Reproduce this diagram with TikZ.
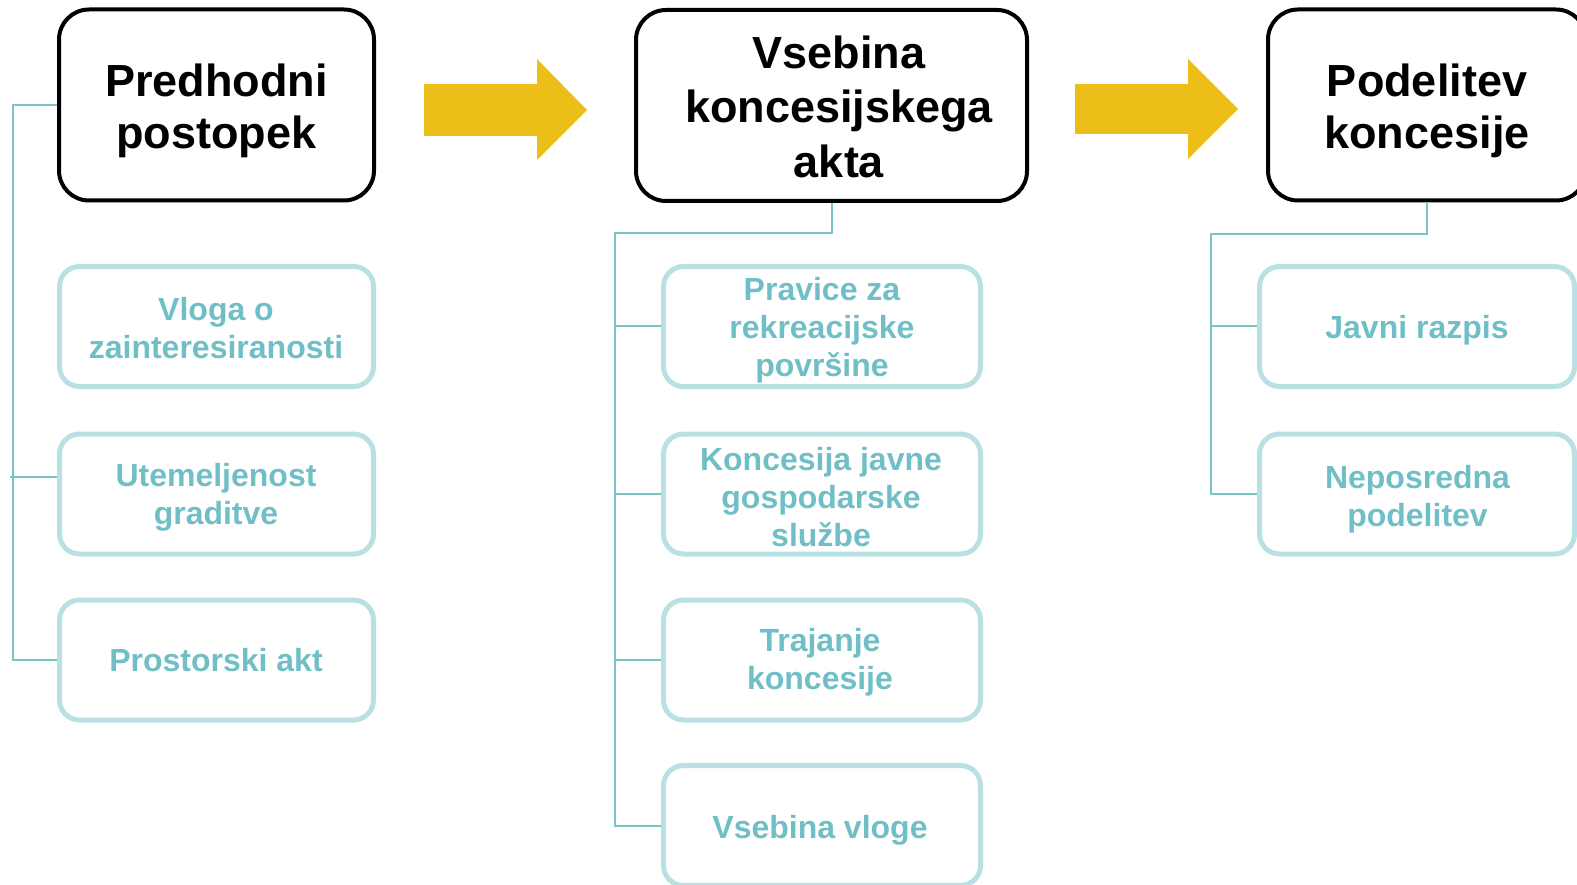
\documentclass[tikz,border=0pt]{standalone}
\usepackage{fontspec}
\setmainfont{Liberation Sans}
\definecolor{tealtext}{RGB}{112,191,198}
\definecolor{tealborder}{RGB}{185,225,228}
\definecolor{tealline}{RGB}{122,195,201}
\definecolor{arrowfill}{RGB}{235,190,24}
\newcommand{\tstrut}{\vrule height .72em depth .21em width 0pt\relax}
\tikzset{
  blackbox/.style={draw=black, line width=4pt, rounded corners=30pt, inner sep=0pt, minimum height=191pt},
  tealbox/.style={draw=tealborder, line width=5pt, rounded corners=20pt, inner sep=0pt, minimum height=120pt},
  titletext/.style={align=center, inner sep=0pt, text=black},
  tealtxt/.style={align=center, inner sep=0pt, text=tealtext, font=\fontsize{32}{38}\selectfont\bfseries},
  conn/.style={draw=tealline, line width=2pt},
}
\begin{document}
\begin{tikzpicture}[x=1pt,y=-1pt]
\useasboundingbox (0,0) rectangle (1577,885);
% header boxes
\node[blackbox, minimum width=315pt] (b1) at (216.5,105) {};
\node[blackbox, minimum width=391pt] (b2) at (831.5,105.5) {};
\node[blackbox, minimum width=318pt] (b3) at (1427,105) {};
\node[titletext, font=\fontsize{45}{52}\selectfont\bfseries] (t1) at (216.5,111) {\tstrut Predhodni\\postopek\tstrut};
\node[titletext, font=\fontsize{45}{54.5}\selectfont\bfseries] (t2) at (839,111) {\tstrut Vsebina\\koncesijskega\\akta\tstrut};
\node[titletext, font=\fontsize{45}{52}\selectfont\bfseries] (t3) at (1427,111) {\tstrut Podelitev\\koncesije\tstrut};
% yellow arrows
\fill[arrowfill] (424,84) -- (537,84) -- (537,59) -- (587,110) -- (537,160) -- (537,136) -- (424,136) -- cycle;
\fill[arrowfill] (1075,84) -- (1188,84) -- (1188,59) -- (1238,109) -- (1188,159) -- (1188,134) -- (1075,134) -- cycle;
% left column
\node[tealbox, minimum width=314pt] (l1) at (216.5,326.5) {};
\node[tealbox, minimum width=314pt] (l2) at (216.5,494) {};
\node[tealbox, minimum width=314pt] (l3) at (216.5,660) {};
\node[tealtxt] (lt1) at (216,331) {\tstrut Vloga o\\zainteresiranosti\tstrut};
\node[tealtxt] (lt2) at (216,497) {\tstrut Utemeljenost\\graditve\tstrut};
\node[tealtxt] (lt3) at (216,663.5) {\tstrut Prostorski akt\tstrut};
% middle column
\node[tealbox, minimum width=317pt] (m1) at (822,326.5) {};
\node[tealbox, minimum width=317pt] (m2) at (822,494) {};
\node[tealbox, minimum width=317pt] (m3) at (822,660) {};
\node[tealbox, minimum width=317pt] (m4) at (822,825.5) {};
\node[tealtxt] (mt1) at (822,330.5) {\tstrut Pravice za\\rekreacijske\\površine\tstrut};
\node[tealtxt] (mt2) at (821,500) {\tstrut Koncesija javne\\gospodarske\\službe\tstrut};
\node[tealtxt] (mt3) at (820,662.5) {\tstrut Trajanje\\koncesije\tstrut};
\node[tealtxt] (mt4) at (820,830) {\tstrut Vsebina vloge\tstrut};
% right column
\node[tealbox, minimum width=315pt] (r1) at (1417,326.5) {};
\node[tealbox, minimum width=315pt] (r2) at (1417,494) {};
\node[tealtxt] (rt1) at (1417,330) {\tstrut Javni razpis\tstrut};
\node[tealtxt] (rt2) at (1417.5,499.3) {\tstrut Neposredna\\podelitev\tstrut};
% connectors left
\coordinate (lj) at (12.5,105);
\coordinate (ls) at (10,477);
\draw[conn] (b1.west) -- (lj) |- (l3.west);
\draw[conn] (ls) -- (ls -| l2.west);
% connectors middle
\coordinate (mj) at (615,233);
\draw[conn] (b2.south) |- (mj) |- (m4.west);
\draw[conn] (mj |- m1.west) -- (m1.west);
\draw[conn] (mj |- m2.west) -- (m2.west);
\draw[conn] (mj |- m3.west) -- (m3.west);
% connectors right
\coordinate (rj) at (1211,234);
\draw[conn] (b3.south) |- (rj) |- (r2.west);
\draw[conn] (rj |- r1.west) -- (r1.west);
\end{tikzpicture}
\end{document}
